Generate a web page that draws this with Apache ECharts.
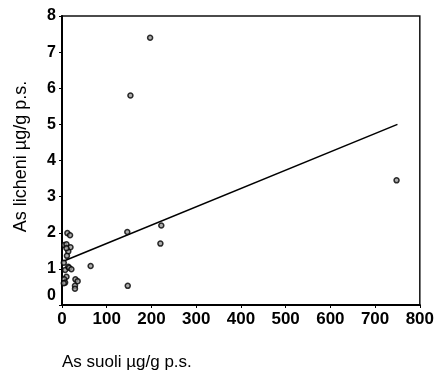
<!DOCTYPE html>
<html>
<head>
<meta charset="utf-8">
<script src="https://cdn.jsdelivr.net/npm/echarts@6/dist/echarts.min.js"></script>
<style>
  html, body { margin: 0; padding: 0; background: #fff; }
  #chart { width: 437px; height: 375px; }
</style>
</head>
<body>
<div id="chart"></div>
<script>
// Arsenic in soils (x) vs. arsenic in lichens (y), µg/g dry weight
const soilAs = [197, 153, 748, 222, 220, 146, 147, 64,
  12, 18, 5, 10, 19, 14, 11, 10, 4, 7, 14, 16, 21, 10, 5, 7, 4, 30, 35, 29, 29];
const lichenAs = [7.4, 5.8, 3.45, 2.2, 1.7, 2.02, 0.53, 1.08,
  1.99, 1.93, 1.66, 1.68, 1.6, 1.48, 1.36, 1.57, 1.17, 0.97, 1.06, 1.03, 0.99, 0.78, 0.71, 0.62, 0.6, 0.71, 0.66, 0.53, 0.45];

// Linear fit drawn between its two end points
const fitX = [0, 750];
const fitY = [1.2, 5.0];

const xTicks = [0, 100, 200, 300, 400, 500, 600, 700, 800];
const yTicks = [0, 1, 2, 3, 4, 5, 6, 7, 8];

const font = '"Liberation Sans", Arial, Helvetica, sans-serif';

const chart = echarts.init(document.getElementById('chart'), null, { renderer: 'canvas' });
chart.setOption({
  animation: false,
  backgroundColor: '#fff',
  title: {
    text: 'As suoli µg/g p.s.',
    left: 57,
    top: 349,
    textStyle: { fontFamily: font, fontSize: 17, fontWeight: 'normal', color: '#000' }
  },
  grid: {
    left: 62, right: 15, top: 16, bottom: 70,
    show: true, borderColor: '#111', borderWidth: 1.5, backgroundColor: 'transparent'
  },
  xAxis: {
    type: 'value',
    min: xTicks[0], max: xTicks[xTicks.length - 1], interval: 100,
    axisLine: { lineStyle: { color: '#000', width: 2 } },
    axisTick: { show: true, length: 3, lineStyle: { color: '#000' } },
    splitLine: { show: false },
    axisLabel: { fontFamily: font, fontSize: 17, fontWeight: 'bold', color: '#000', margin: 6 }
  },
  yAxis: {
    type: 'value',
    min: yTicks[0], max: yTicks[yTicks.length - 1], interval: 1,
    name: 'As licheni µg/g p.s.',
    nameLocation: 'middle',
    nameGap: 32,
    nameTextStyle: { fontFamily: font, fontSize: 18, color: '#000', padding: [0, 0, 0, 8] },
    axisLine: { lineStyle: { color: '#000', width: 2 } },
    axisTick: { show: true, length: 3, lineStyle: { color: '#000' } },
    splitLine: { show: false },
    axisLabel: {
      fontFamily: font, fontSize: 16, fontWeight: 'bold', color: '#000', margin: 6,
      formatter: v => (v === 0 ? '{z|0}' : String(v)),
      rich: { z: { fontFamily: font, fontSize: 16, fontWeight: 'bold', color: '#000', padding: [0, 0, 18, 0] } }
    }
  },
  series: [
    {
      type: 'line',
      data: fitX.map((x, i) => [x, fitY[i]]),
      symbol: 'none',
      lineStyle: { color: '#000', width: 1.6 },
      z: 2
    },
    {
      type: 'scatter',
      data: soilAs.map((x, i) => [x, lichenAs[i]]),
      symbol: 'circle',
      symbolSize: 5,
      itemStyle: { color: '#999', borderColor: '#000', borderWidth: 1.5 },
      z: 3
    }
  ]
});
</script>
</body>
</html>
